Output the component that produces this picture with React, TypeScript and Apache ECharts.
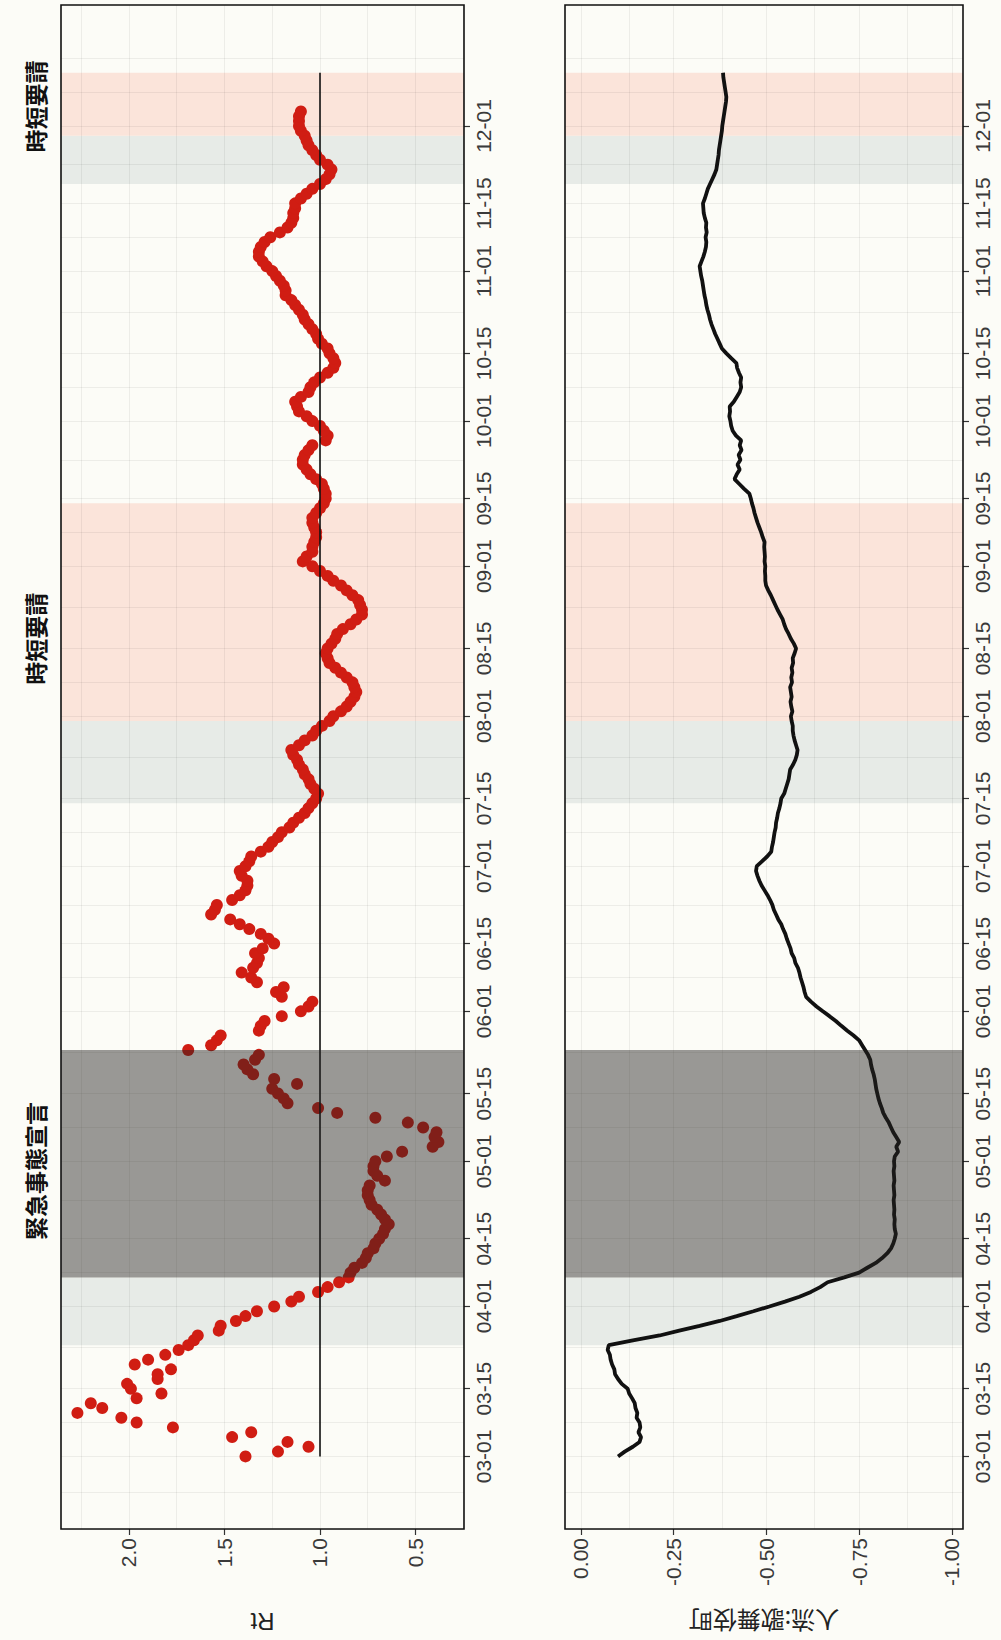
import React, { useEffect, useRef } from "react";
import * as echarts from "echarts";

// ---------- data ----------
const START_DATE = "2020-03-01";

// effective reproduction number, one value per day from 2020-03-01
const rtValues = [
  1.39, 1.22, 1.06, 1.17, 1.46, 1.36, 1.77, 1.96, 2.04, 2.27,
  2.14, 2.20, 1.96, 1.83, 1.99, 2.01, 1.85, 1.85, 1.78, 1.97,
  1.90, 1.81, 1.74, 1.69, 1.66, 1.64, 1.53, 1.52, 1.44, 1.39,
  1.33, 1.24, 1.15, 1.11, 1.01, 0.96, 0.90, 0.85, 0.84, 0.82,
  0.78, 0.76, 0.75, 0.72, 0.71, 0.69, 0.67, 0.66, 0.64, 0.66,
  0.68, 0.70, 0.73, 0.74, 0.75, 0.75, 0.74, 0.66, 0.70, 0.72,
  0.72, 0.71, 0.65, 0.57, 0.41, 0.38, 0.40, 0.39, 0.46, 0.54,
  0.71, 0.91, 1.01, 1.17, 1.19, 1.22, 1.25, 1.12, 1.24, 1.35,
  1.38, 1.40, 1.34, 1.32, 1.69, 1.57, 1.54, 1.52, 1.32, 1.31,
  1.29, 1.20, 1.10, 1.06, 1.04, 1.20, 1.23, 1.19, 1.33, 1.36,
  1.41, 1.35, 1.33, 1.32, 1.34, 1.30, 1.24, 1.27, 1.31, 1.37,
  1.42, 1.47, 1.57, 1.55, 1.54, 1.46, 1.42, 1.39, 1.38, 1.38,
  1.41, 1.42, 1.39, 1.37, 1.36, 1.31, 1.27, 1.25, 1.22, 1.20,
  1.16, 1.14, 1.11, 1.08, 1.06, 1.04, 1.02, 1.01, 1.03, 1.05,
  1.06, 1.08, 1.09, 1.11, 1.12, 1.14, 1.15, 1.11, 1.08, 1.04,
  1.02, 0.99, 0.95, 0.93, 0.89, 0.86, 0.84, 0.82, 0.81, 0.82,
  0.83, 0.86, 0.89, 0.92, 0.95, 0.96, 0.97, 0.96, 0.94, 0.92,
  0.91, 0.88, 0.84, 0.81, 0.78, 0.78, 0.79, 0.80, 0.83, 0.86,
  0.89, 0.93, 0.96, 1.00, 1.04, 1.09, 1.07, 1.04, 1.04, 1.03,
  1.02, 1.02, 1.03, 1.04, 1.04, 1.02, 1.00, 0.98, 0.97, 0.97,
  0.98, 0.99, 1.02, 1.05, 1.07, 1.09, 1.09, 1.08, 1.06, 1.04,
  0.97, 0.96, 0.98, 1.00, 1.04, 1.07, 1.11, 1.12, 1.13, 1.10,
  1.06, 1.05, 1.03, 1.00, 0.96, 0.93, 0.92, 0.93, 0.95, 0.96,
  0.99, 1.01, 1.02, 1.04, 1.06, 1.08, 1.09, 1.11, 1.13, 1.15,
  1.18, 1.18, 1.19, 1.21, 1.23, 1.25, 1.28, 1.30, 1.32, 1.32,
  1.31, 1.29, 1.26, 1.21, 1.17, 1.15, 1.14, 1.14, 1.13, 1.13,
  1.10, 1.07, 1.04, 1.00, 0.97, 0.95, 0.94, 0.96, 1.00, 1.02,
  1.04, 1.06, 1.07, 1.08, 1.10, 1.11, 1.11, 1.11, 1.10,
];

// 人流 (歌舞伎町), change vs. baseline, one value per day from 2020-03-01
const mobilityValues = [
  -0.100, -0.118, -0.140, -0.158, -0.162, -0.155, -0.160, -0.158, -0.150, -0.152,
  -0.147, -0.145, -0.138, -0.130, -0.126, -0.110, -0.100, -0.092, -0.090, -0.084,
  -0.080, -0.078, -0.072, -0.075, -0.140, -0.212, -0.265, -0.320, -0.374, -0.420,
  -0.465, -0.508, -0.550, -0.589, -0.620, -0.645, -0.665, -0.710, -0.750, -0.772,
  -0.795, -0.812, -0.826, -0.836, -0.842, -0.846, -0.849, -0.846, -0.845, -0.846,
  -0.844, -0.845, -0.844, -0.843, -0.845, -0.844, -0.843, -0.845, -0.844, -0.843,
  -0.845, -0.844, -0.846, -0.855, -0.850, -0.858, -0.850, -0.842, -0.836, -0.830,
  -0.822, -0.815, -0.811, -0.806, -0.802, -0.799, -0.796, -0.794, -0.792, -0.789,
  -0.785, -0.782, -0.780, -0.774, -0.766, -0.758, -0.750, -0.735, -0.718, -0.702,
  -0.687, -0.670, -0.652, -0.635, -0.620, -0.607, -0.603, -0.600, -0.596, -0.592,
  -0.589, -0.585, -0.578, -0.575, -0.568, -0.565, -0.560, -0.555, -0.551, -0.545,
  -0.540, -0.532, -0.526, -0.520, -0.516, -0.510, -0.503, -0.495, -0.487, -0.481,
  -0.476, -0.472, -0.474, -0.488, -0.502, -0.513, -0.515, -0.518, -0.520, -0.522,
  -0.525, -0.526, -0.529, -0.531, -0.535, -0.538, -0.540, -0.548, -0.552, -0.556,
  -0.560, -0.562, -0.564, -0.572, -0.578, -0.582, -0.584, -0.580, -0.576, -0.573,
  -0.571, -0.571, -0.568, -0.566, -0.570, -0.567, -0.565, -0.568, -0.566, -0.564,
  -0.569, -0.567, -0.570, -0.568, -0.572, -0.571, -0.576, -0.580, -0.574, -0.566,
  -0.560, -0.553, -0.548, -0.544, -0.537, -0.530, -0.524, -0.518, -0.512, -0.505,
  -0.499, -0.497, -0.497, -0.496, -0.497, -0.495, -0.496, -0.495, -0.494, -0.495,
  -0.490, -0.486, -0.481, -0.476, -0.472, -0.468, -0.465, -0.461, -0.458, -0.454,
  -0.440, -0.427, -0.414, -0.420, -0.428, -0.422, -0.430, -0.425, -0.433, -0.428,
  -0.432, -0.418, -0.409, -0.405, -0.403, -0.400, -0.402, -0.401, -0.412, -0.420,
  -0.428, -0.432, -0.430, -0.432, -0.426, -0.421, -0.419, -0.405, -0.392, -0.380,
  -0.374, -0.368, -0.362, -0.357, -0.352, -0.348, -0.345, -0.341, -0.338, -0.336,
  -0.333, -0.331, -0.329, -0.327, -0.324, -0.322, -0.320, -0.325, -0.330, -0.334,
  -0.337, -0.338, -0.336, -0.339, -0.337, -0.338, -0.334, -0.331, -0.330, -0.329,
  -0.334, -0.338, -0.342, -0.348, -0.354, -0.360, -0.365, -0.367, -0.369, -0.371,
  -0.372, -0.374, -0.376, -0.378, -0.380, -0.381, -0.383, -0.385, -0.387, -0.389,
  -0.391, -0.392, -0.390, -0.388, -0.386, -0.384, -0.383,
];

const rtTicks = [0.5, 1.0, 1.5, 2.0];
const mobilityTicks = [0, -0.25, -0.5, -0.75, -1.0];
const dateTickLabels = [
  "03-01", "03-15", "04-01", "04-15", "05-01", "05-15", "06-01", "06-15", "07-01",
  "07-15", "08-01", "08-15", "09-01", "09-15", "10-01", "10-15", "11-01", "11-15", "12-01",
];
const dateGridBreaks = ["02-15", ...dateTickLabels, "12-15"];

const alertPeriods = [
  ["2020-03-24", "2020-04-07"],
  ["2020-07-14", "2020-07-31"],
  ["2020-11-19", "2020-11-29"],
];
const shortHoursPeriods = [
  ["2020-07-31", "2020-09-14"],
  ["2020-11-29", "2020-12-12"],
];
const emergencyPeriods = [["2020-04-07", "2020-05-24"]];

const periodLabels = [
  { text: "緊急事態宣言", date: "2020-04-29" },
  { text: "時短要請", date: "2020-08-17" },
  { text: "時短要請", date: "2020-12-05" },
];

const rtAxisTitle = "Rt";
const mobilityAxisTitle = "人流:歌舞伎町";

// ---------- helpers ----------
const DAY_MS = 86400000;
const dayIndex = (iso: string) =>
  Math.round((Date.parse(iso + "T00:00:00Z") - Date.parse(START_DATE + "T00:00:00Z")) / DAY_MS);
const mdIndex = (md: string) => dayIndex("2020-" + md);

const tickDays = dateTickLabels.map(mdIndex);
const gridMajorDays = dateGridBreaks.map(mdIndex);
const gridDays: number[] = [];
gridMajorDays.forEach((d, i) => {
  gridDays.push(d);
  if (i < gridMajorDays.length - 1) gridDays.push((d + gridMajorDays[i + 1]) / 2);
});

const withMinors = (ticks: number[]) => {
  const out: number[] = [];
  const step = ticks[1] - ticks[0];
  out.push(ticks[0] - step / 2);
  ticks.forEach((t, i) => {
    out.push(t);
    if (i < ticks.length - 1) out.push((t + ticks[i + 1]) / 2);
  });
  out.push(ticks[ticks.length - 1] + step / 2);
  return out;
};

// ---------- layout ----------
const W = 1001;
const H = 1640;
const GRID_TOP = 5;
const GRID_H = 1524;
const P1_LEFT = 61;
const P1_W = 403;
const P2_LEFT = 565;
const P2_W = 398;

const DAY_MIN = -15;
const DAY_MAX = 300;
const RT_MIN = 0.246;
const RT_MAX = 2.356;
const MOB_MIN = -1.03;
const MOB_MAX = 0.043;

const TICK_FONT = "'Liberation Sans', Arial, sans-serif";
const CJK_FONT = "'Noto Sans CJK JP', 'Noto Sans CJK SC', sans-serif";
const GRID_LINE = "rgba(0,0,0,0.06)";

function valueAxis(gridIndex: number, min: number, max: number, ticks: number[], digits: number) {
  return {
    type: "value",
    gridIndex,
    min,
    max,
    inverse: true,
    position: "bottom",
    axisLine: { show: false, onZero: false },
    splitLine: { show: false },
    axisTick: {
      show: true,
      customValues: ticks,
      length: 6,
      lineStyle: { color: "#333", width: 1.2 },
    },
    axisLabel: {
      customValues: ticks,
      rotate: 90,
      margin: 9,
      fontSize: 21,
      fontFamily: TICK_FONT,
      color: "#3a3a3a",
      formatter: (v: number) => v.toFixed(digits),
    },
  };
}

function dateAxis(gridIndex: number) {
  return {
    type: "value",
    gridIndex,
    min: DAY_MIN,
    max: DAY_MAX,
    position: "right",
    axisLine: { show: false, onZero: false },
    splitLine: { show: false },
    axisTick: {
      show: true,
      customValues: tickDays,
      length: 6,
      lineStyle: { color: "#333", width: 1.2 },
    },
    axisLabel: {
      customValues: tickDays,
      rotate: 90,
      margin: 9,
      fontSize: 21,
      fontFamily: TICK_FONT,
      color: "#3a3a3a",
      formatter: (v: number) => {
        const i = tickDays.indexOf(Math.round(v));
        return i >= 0 ? dateTickLabels[i] : "";
      },
    },
  };
}

function bandArea(periods: string[][], color: string) {
  return periods.map((p) => [
    { yAxis: dayIndex(p[0]), itemStyle: { color } },
    { yAxis: dayIndex(p[1]) },
  ]);
}

function panelHelpers(idx: number, gridValues: number[]) {
  return [
    {
      type: "scatter",
      xAxisIndex: idx,
      yAxisIndex: idx,
      data: [],
      silent: true,
      markArea: {
        silent: true,
        z: 0.5,
        label: { show: false },
        data: [
          ...bandArea(alertPeriods, "#e7ebe7"),
          ...bandArea(shortHoursPeriods, "#fbe4da"),
        ],
      },
      markLine: {
        silent: true,
        z: 1,
        symbol: ["none", "none"],
        label: { show: false },
        lineStyle: { color: GRID_LINE, width: 1, type: "solid" },
        data: [
          ...gridValues.map((v) => ({ xAxis: v })),
          ...gridDays.map((d) => ({ yAxis: d })),
        ],
      },
    },
    {
      type: "scatter",
      xAxisIndex: idx,
      yAxisIndex: idx,
      data: [],
      silent: true,
      markArea: {
        silent: true,
        z: 4,
        label: { show: false },
        data: bandArea(emergencyPeriods, "rgba(38,34,32,0.46)"),
      },
    },
  ];
}

export default function App() {
  const ref = useRef<HTMLDivElement>(null);

  useEffect(() => {
    if (!ref.current) return;
    const chart = echarts.init(ref.current, null, { renderer: "svg" });

    const rtGridValues = withMinors(rtTicks).filter((v) => v >= RT_MIN && v <= RT_MAX);
    const mobGridValues = withMinors(mobilityTicks).filter((v) => v >= MOB_MIN && v <= MOB_MAX);
    const lastDay = mobilityValues.length - 1;

    const option: any = {
      animation: false,
      backgroundColor: "#fcfcf7",
      grid: [
        {
          left: P1_LEFT, top: GRID_TOP, width: P1_W, height: GRID_H,
          show: true, z: 6, backgroundColor: "transparent",
          borderColor: "#111", borderWidth: 1.6,
        },
        {
          left: P2_LEFT, top: GRID_TOP, width: P2_W, height: GRID_H,
          show: true, z: 6, backgroundColor: "transparent",
          borderColor: "#111", borderWidth: 1.6,
        },
      ],
      xAxis: [
        valueAxis(0, RT_MIN, RT_MAX, rtTicks, 1),
        valueAxis(1, MOB_MIN, MOB_MAX, mobilityTicks, 2),
      ],
      yAxis: [dateAxis(0), dateAxis(1)],
      series: [
        ...panelHelpers(0, rtGridValues),
        ...panelHelpers(1, mobGridValues),
        {
          type: "scatter",
          name: "Rt",
          xAxisIndex: 0,
          yAxisIndex: 0,
          z: 2,
          symbolSize: 12,
          itemStyle: { color: "#d01d13", opacity: 1 },
          data: rtValues.map((v, i) => [v, i]),
          markLine: {
            silent: true,
            z: 3,
            symbol: ["none", "none"],
            label: { show: false },
            lineStyle: { color: "#111", width: 1.6, type: "solid" },
            data: [[{ coord: [1, 0] }, { coord: [1, lastDay] }]],
          },
        },
        {
          type: "line",
          name: "人流",
          xAxisIndex: 1,
          yAxisIndex: 1,
          z: 2,
          showSymbol: false,
          symbol: "none",
          lineStyle: { color: "#111", width: 3.8 },
          data: mobilityValues.map((v, i) => [v, i]),
        },
      ],
    };

    chart.setOption(option);

    const labelGraphics = periodLabels.map((p) => {
      const pt = chart.convertToPixel({ gridIndex: 0 } as any, [RT_MAX, dayIndex(p.date)]) as number[];
      return {
        type: "text",
        x: 35,
        y: pt[1],
        rotation: Math.PI / 2,
        style: {
          text: p.text,
          fill: "#111",
          fontSize: 23,
          fontWeight: "bold",
          fontFamily: CJK_FONT,
          align: "center",
          verticalAlign: "middle",
        },
      };
    });

    const titleY = 1621;
    const titles = [
      {
        type: "text",
        x: P1_LEFT + P1_W / 2,
        y: titleY,
        rotation: Math.PI,
        style: {
          text: rtAxisTitle,
          fill: "#222",
          fontSize: 24,
          fontFamily: TICK_FONT,
          align: "center",
          verticalAlign: "middle",
        },
      },
      {
        type: "text",
        x: P2_LEFT + P2_W / 2,
        y: titleY,
        rotation: Math.PI,
        style: {
          text: mobilityAxisTitle,
          fill: "#222",
          fontSize: 24,
          fontFamily: CJK_FONT,
          align: "center",
          verticalAlign: "middle",
        },
      },
    ];

    chart.setOption({ graphic: [...labelGraphics, ...titles] });

    return () => chart.dispose();
  }, []);

  return (
    <div
      ref={ref}
      style={{ position: "absolute", left: 0, top: 0, width: W, height: H }}
    />
  );
}
